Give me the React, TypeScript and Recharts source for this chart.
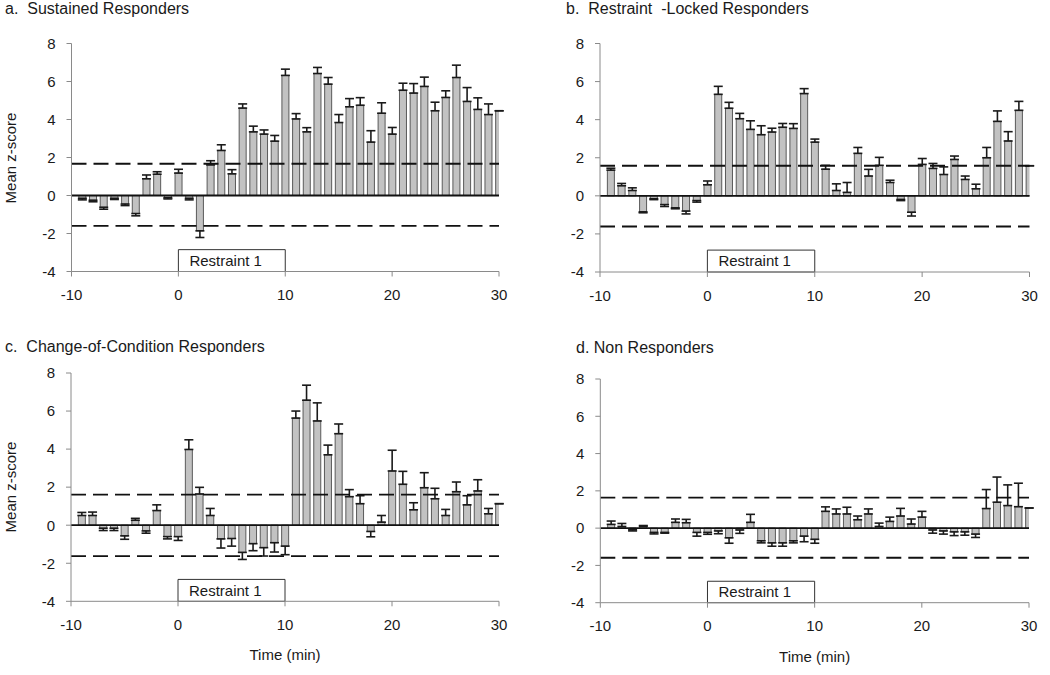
import React from "react";
import {
  ComposedChart,
  Bar,
  ErrorBar,
  XAxis,
  YAxis,
  ReferenceLine,
  ReferenceArea,
  Label,
} from "recharts";

// minutes relative to restraint onset
const times = [
  -9, -8, -7, -6, -5, -4, -3, -2, -1, 0, 1, 2, 3, 4, 5, 6, 7, 8, 9, 10, 11, 12,
  13, 14, 15, 16, 17, 18, 19, 20, 21, 22, 23, 24, 25, 26, 27, 28, 29, 30,
];

const sustainedMean = [
  -0.15, -0.25, -0.62, -0.15, -0.45, -0.95, 0.88, 1.12, -0.12, 1.18, -0.15,
  -1.86, 1.61, 2.37, 1.14, 4.6, 3.35, 3.23, 2.86, 6.32, 4.03, 3.35, 6.42, 5.86,
  3.84, 4.67, 4.75, 2.81, 4.33, 3.23, 5.54, 5.39, 5.74, 4.46, 5.16, 6.21, 4.95,
  4.53, 4.26, 4.46,
];
const sustainedSem = [
  0.08, 0.08, 0.1, 0.06, 0.08, 0.12, 0.2, 0.13, 0.06, 0.2, 0.08, 0.35, 0.22,
  0.3, 0.22, 0.22, 0.3, 0.22, 0.3, 0.33, 0.28, 0.22, 0.32, 0.35, 0.42, 0.43,
  0.4, 0.6, 0.55, 0.35, 0.37, 0.5, 0.49, 0.45, 0.35, 0.65, 0.73, 0.61, 0.56, 0,
];

const lockedMean = [
  1.35, 0.53, 0.28, -0.84, -0.15, -0.46, -0.63, -0.8, -0.25, 0.58, 5.33, 4.6,
  4.05, 3.49, 3.21, 3.35, 3.6, 3.54, 5.37, 2.82, 1.4, 0.28, 0.18, 2.23, 1.04,
  1.6, 0.7, -0.19, -0.86, 1.65, 1.44, 1.12, 1.91, 0.86, 0.37, 2.0, 3.91, 2.88,
  4.49, 1.58,
];
const lockedSem = [
  0.1, 0.12, 0.14, 0.05, 0.05, 0.1, 0.05, 0.15, 0.08, 0.2, 0.42, 0.31, 0.28,
  0.45, 0.47, 0.2, 0.2, 0.25, 0.26, 0.16, 0.2, 0.35, 0.52, 0.31, 0.35, 0.42,
  0.12, 0.06, 0.2, 0.31, 0.26, 0.4, 0.18, 0.18, 0.24, 0.54, 0.55, 0.49, 0.47, 0,
];

const changeMean = [
  0.51, 0.51, -0.16, -0.16, -0.56, 0.26, -0.3, 0.77, -0.6, -0.6, 3.98, 1.64,
  0.51, -0.72, -0.7, -1.43, -0.97, -1.18, -0.92, -1.1, 5.63, 6.57, 5.48, 3.7,
  4.81, 1.5, 1.13, -0.33, 0.16, 2.85, 2.15, 0.81, 1.97, 1.39, 0.51, 1.76, 1.07,
  1.8, 0.6, 1.13,
];
const changeSem = [
  0.16, 0.18, 0.12, 0.12, 0.18, 0.1, 0.12, 0.3, 0.12, 0.2, 0.51, 0.35, 0.37,
  0.48, 0.4, 0.37, 0.37, 0.44, 0.49, 0.45, 0.37, 0.79, 0.95, 0.51, 0.51, 0.37,
  0.42, 0.28, 0.35, 1.09, 0.68, 0.37, 0.79, 0.55, 0.32, 0.51, 0.48, 0.59, 0.28,
  0,
];

const nonMean = [
  0.2, 0.09, -0.09, 0.1, -0.23, -0.23, 0.31, 0.29, -0.23, -0.23, -0.15, -0.52,
  -0.1, 0.31, -0.68, -0.79, -0.79, -0.68, -0.43, -0.6, 0.9, 0.76, 0.76, 0.45,
  0.76, 0.09, 0.36, 0.65, 0.22, 0.59, -0.1, -0.15, -0.2, -0.2, -0.32, 1.05,
  1.39, 1.21, 1.15, 1.08,
];
const nonSem = [
  0.18, 0.16, 0.06, 0.04, 0.08, 0.04, 0.18, 0.18, 0.2, 0.1, 0.15, 0.29, 0.18,
  0.43, 0.11, 0.18, 0.18, 0.11, 0.3, 0.21, 0.24, 0.27, 0.36, 0.2, 0.27, 0.18,
  0.23, 0.41, 0.27, 0.31, 0.17, 0.17, 0.2, 0.18, 0.18, 1.02, 1.35, 1.11, 1.26,
  0,
];

const xTicks = [-10, 0, 10, 20, 30];
const yTicks = [-4, -2, 0, 2, 4, 6, 8];
const restraintStart = 0;
const restraintEnd = 10;

const FONT = '"Liberation Sans", Arial, sans-serif';
const INK = "#1a1a1a";

type PanelProps = {
  title: string;
  mean: number[];
  sem: number[];
  upper: number;
  lower: number;
  left: number;
  top: number;
  margin: { top: number; right: number; bottom: number; left: number };
  yLabel?: boolean;
  xLabel?: boolean;
  titleX: number;
  titleY: number;
};

const Panel = ({
  title,
  mean,
  sem,
  upper,
  lower,
  left,
  top,
  margin,
  yLabel,
  xLabel,
  titleX,
  titleY,
}: PanelProps) => {
  // one-sided error bars, pointing away from zero
  const data = times.map((t, i) => ({
    t,
    z: mean[i],
    err: mean[i] >= 0 ? [0, sem[i]] : [sem[i], 0],
  }));
  const plotLeft = margin.left + 50;
  const plotRight = 525 - margin.right;
  const plotTop = margin.top;
  const plotBottom = 337 - margin.bottom - 30;

  return (
    <div style={{ position: "absolute", left, top, width: 525, height: 337 }}>
      <div
        style={{
          position: "absolute",
          left: titleX,
          top: titleY,
          fontFamily: FONT,
          fontSize: 16,
          color: INK,
          whiteSpace: "pre",
        }}
      >
        {title}
      </div>
      {yLabel && (
        <div
          style={{
            position: "absolute",
            left: 10,
            top: (plotTop + plotBottom) / 2,
            transform: "translate(-50%, -50%) rotate(-90deg)",
            fontFamily: FONT,
            fontSize: 15,
            color: INK,
            whiteSpace: "nowrap",
          }}
        >
          Mean z-score
        </div>
      )}
      {xLabel && (
        <div
          style={{
            position: "absolute",
            left: (plotLeft + plotRight) / 2,
            top: plotBottom + 45,
            transform: "translateX(-50%)",
            fontFamily: FONT,
            fontSize: 15,
            color: INK,
            whiteSpace: "nowrap",
          }}
        >
          Time (min)
        </div>
      )}
      <ComposedChart width={525} height={337} data={data} margin={margin}>
        <XAxis
          dataKey="t"
          type="number"
          domain={[-10, 30]}
          ticks={xTicks}
          allowDataOverflow
          height={30}
          tickSize={5}
          tickMargin={13}
          stroke="#8a8a8a"
          tick={{ fill: INK, fontSize: 15, fontFamily: FONT }}
        />
        <YAxis
          type="number"
          domain={[-4, 8]}
          ticks={yTicks}
          width={50}
          tickSize={5}
          tickMargin={11}
          stroke="#8a8a8a"
          tick={{ fill: INK, fontSize: 15, fontFamily: FONT }}
        />
        <ReferenceArea
          x1={restraintStart}
          x2={restraintEnd}
          y1={-4}
          y2={-2.85}
          fill="#ffffff"
          fillOpacity={1}
          stroke="#333"
          strokeWidth={1}
        >
          <Label
            value="Restraint 1"
            position="insideLeft"
            offset={11}
            fill={INK}
            fontSize={15}
            fontFamily={FONT}
          />
        </ReferenceArea>
        <Bar
          dataKey="z"
          barSize={7}
          fill="#c2c2c2"
          stroke="#5a5a5a"
          strokeWidth={1}
          isAnimationActive={false}
        >
          <ErrorBar
            dataKey="err"
            direction="y"
            width={4.5}
            stroke="#1a1a1a"
            strokeWidth={1.6}
          />
        </Bar>
        <ReferenceLine y={0} stroke="#111" strokeWidth={1.8} />
        <ReferenceLine
          y={upper}
          stroke="#111"
          strokeWidth={1.8}
          strokeDasharray="15 7"
        />
        <ReferenceLine
          y={lower}
          stroke="#111"
          strokeWidth={1.8}
          strokeDasharray="15 7"
        />
      </ComposedChart>
    </div>
  );
};

export default function App() {
  return (
    <div
      style={{
        position: "absolute",
        left: 0,
        top: 0,
        width: 1050,
        height: 675,
        background: "#fff",
      }}
    >
      <Panel
        title="a.  Sustained Responders"
        mean={sustainedMean}
        sem={sustainedSem}
        upper={1.67}
        lower={-1.6}
        left={0}
        top={0}
        margin={{ top: 43.5, right: 26, bottom: 35.5, left: 21.5 }}
        yLabel
        titleX={5}
        titleY={0}
      />
      <Panel
        title="b.  Restraint  -Locked Responders"
        mean={lockedMean}
        sem={lockedSem}
        upper={1.58}
        lower={-1.61}
        left={525}
        top={0}
        margin={{ top: 43.5, right: 20.5, bottom: 35, left: 25 }}
        titleX={41}
        titleY={0}
      />
      <Panel
        title="c.  Change-of-Condition Responders"
        mean={changeMean}
        sem={changeSem}
        upper={1.61}
        lower={-1.63}
        left={0}
        top={337}
        margin={{ top: 36, right: 26, bottom: 42.7, left: 21 }}
        yLabel
        xLabel
        titleX={5}
        titleY={1}
      />
      <Panel
        title="d. Non Responders"
        mean={nonMean}
        sem={nonSem}
        upper={1.64}
        lower={-1.59}
        left={525}
        top={337}
        margin={{ top: 42, right: 21, bottom: 41.3, left: 25.3 }}
        xLabel
        titleX={51}
        titleY={2}
      />
    </div>
  );
}
